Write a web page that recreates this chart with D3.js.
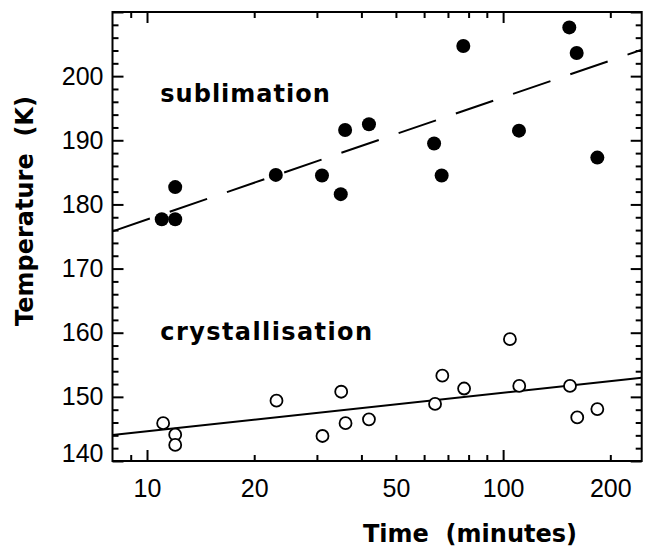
<!DOCTYPE html>
<meta charset="utf-8">
<html>
<head>
<script src="https://cdn.jsdelivr.net/npm/d3@7"></script>
<style>
body { margin:0; background:#fff; }
svg { display:block; }
.frame { fill:none; stroke:#000; stroke-width:2; }
.tick line { stroke:#000; stroke-width:2; }
.lbl text { font-family:"Liberation Sans", Arial, sans-serif; font-size:25px; fill:#000; }
.title { font-family:"DejaVu Sans", sans-serif; font-size:24px; font-weight:bold; fill:#000; }
.note { font-family:"DejaVu Sans", sans-serif; font-size:24px; font-weight:bold; letter-spacing:1px; fill:#000; }
.fit { fill:none; stroke:#000; stroke-width:2; }
</style>
</head>
<body>
<script>

// sublimation (filled circles)
var subTime = [11.0, 12.0, 12.0, 23.0, 31.0, 35.0, 36.0, 42.0, 64.0, 67.2, 77.3, 110.8, 153.4, 160.9, 183.9];
var subTemp = [177.7, 177.7, 182.7, 184.6, 184.5, 181.6, 191.6, 192.5, 189.5, 184.5, 204.7, 191.5, 207.6, 203.6, 187.3];

// crystallisation (open circles)
var crysTime = [11.1, 12.0, 12.0, 23.1, 31.1, 35.1, 36.1, 42.0, 64.4, 67.5, 77.7, 104.5, 111.0, 154.1, 161.5, 183.9];
var crysTemp = [145.9, 144.1, 142.5, 149.4, 143.9, 150.8, 145.9, 146.5, 148.9, 153.3, 151.3, 159.0, 151.7, 151.7, 146.8, 148.1];

// fits: T = a + b*log10(t)
var subFit = [158.6, 19.05];
var crysFit = [138.6, 6.02];

// axes
var xDomain = [8, 245];
var yDomain = [140, 210];
var xLabels = [10, 20, 50, 100, 200];
var xMajor = [10, 100];
var xMinor = [9, 20, 30, 40, 50, 60, 70, 80, 90, 200];
var yMajor = [140, 150, 160, 170, 180, 190, 200, 210];
var yMinor = d3.range(142, 210, 2).filter(v => v % 10 !== 0);

var W = 646, H = 548;
var m = {left:112.5, right:4.3, top:12, bottom:87};

var svg = d3.select("body").append("svg")
    .attr("width", W)
    .attr("height", H);

var x = d3.scaleLog()
    .domain(xDomain)
    .range([m.left, W - m.right]);

var y = d3.scaleLinear()
    .domain(yDomain)
    .range([H - m.bottom, m.top]);

var bottom = H - m.bottom, right = W - m.right;

function noDomain(g) { g.select(".domain").remove(); }

// tick marks, all pointing inward
function ticksX(vals, len) {
  svg.append("g").attr("transform", `translate(0,${bottom})`)
    .call(d3.axisBottom(x).tickValues(vals).tickSize(-len).tickFormat(""))
    .call(noDomain);
  svg.append("g").attr("transform", `translate(0,${m.top})`)
    .call(d3.axisTop(x).tickValues(vals).tickSize(-len).tickFormat(""))
    .call(noDomain);
}
function ticksY(vals, len) {
  svg.append("g").attr("transform", `translate(${m.left},0)`)
    .call(d3.axisLeft(y).tickValues(vals).tickSize(-len).tickFormat(""))
    .call(noDomain);
  svg.append("g").attr("transform", `translate(${right},0)`)
    .call(d3.axisRight(y).tickValues(vals).tickSize(-len).tickFormat(""))
    .call(noDomain);
}
ticksX(xMinor, 6);
ticksX(xMajor, 11);
ticksY(yMinor, 6);
ticksY(yMajor, 11);

// tick labels
svg.append("g").attr("class", "lbl")
    .attr("transform", `translate(0,${bottom})`)
    .call(d3.axisBottom(x).tickValues(xLabels).tickSize(0).tickPadding(18).tickFormat(d3.format("d")))
    .call(noDomain);

var yl = svg.append("g").attr("class", "lbl")
    .attr("transform", `translate(${m.left},0)`)
    .call(d3.axisLeft(y).tickValues(yMajor.slice(0, -1)).tickSize(0).tickPadding(9))
    .call(noDomain);
yl.selectAll(".tick text").filter(d => d === 140).attr("dy", "0.0em");

// frame
svg.append("rect").attr("class", "frame")
    .attr("x", m.left).attr("y", m.top)
    .attr("width", right - m.left).attr("height", bottom - m.top);

// fit lines
var fitLine = f => d3.line()
    .x(d => x(d))
    .y(d => y(f[0] + f[1] * Math.log10(d)));

svg.append("path").attr("class", "fit")
    .attr("d", fitLine(subFit)(xDomain))
    .attr("stroke-dasharray", "39.5,21");

svg.append("path").attr("class", "fit")
    .attr("stroke-width", 1.6)
    .attr("d", fitLine(crysFit)(xDomain));

// points
svg.append("g").selectAll("circle")
    .data(d3.zip(subTime, subTemp))
    .enter().append("circle")
    .attr("cx", d => x(d[0]))
    .attr("cy", d => y(d[1]))
    .attr("r", 7)
    .attr("fill", "#000");

svg.append("g").selectAll("circle")
    .data(d3.zip(crysTime, crysTemp))
    .enter().append("circle")
    .attr("cx", d => x(d[0]))
    .attr("cy", d => y(d[1]))
    .attr("r", 6)
    .attr("fill", "#fff")
    .attr("stroke", "#000")
    .attr("stroke-width", 1.8);

// annotations
svg.append("text").attr("class", "note")
    .attr("x", x(10.9)).attr("y", y(196.0))
    .text("sublimation");
svg.append("text").attr("class", "note")
    .attr("x", x(10.9)).attr("y", y(158.9))
    .style("letter-spacing", "1.4px")
    .text("crystallisation");

// axis titles
svg.append("text").attr("class", "title")
    .attr("text-anchor", "middle")
    .attr("x", 470).attr("y", 542)
    .style("white-space", "pre")
    .text("Time  (minutes)");

svg.append("text").attr("class", "title")
    .attr("text-anchor", "middle")
    .attr("transform", "translate(33,211) rotate(-90)")
    .style("white-space", "pre")
    .text("Temperature  (K)");

</script>
</body>
</html>
